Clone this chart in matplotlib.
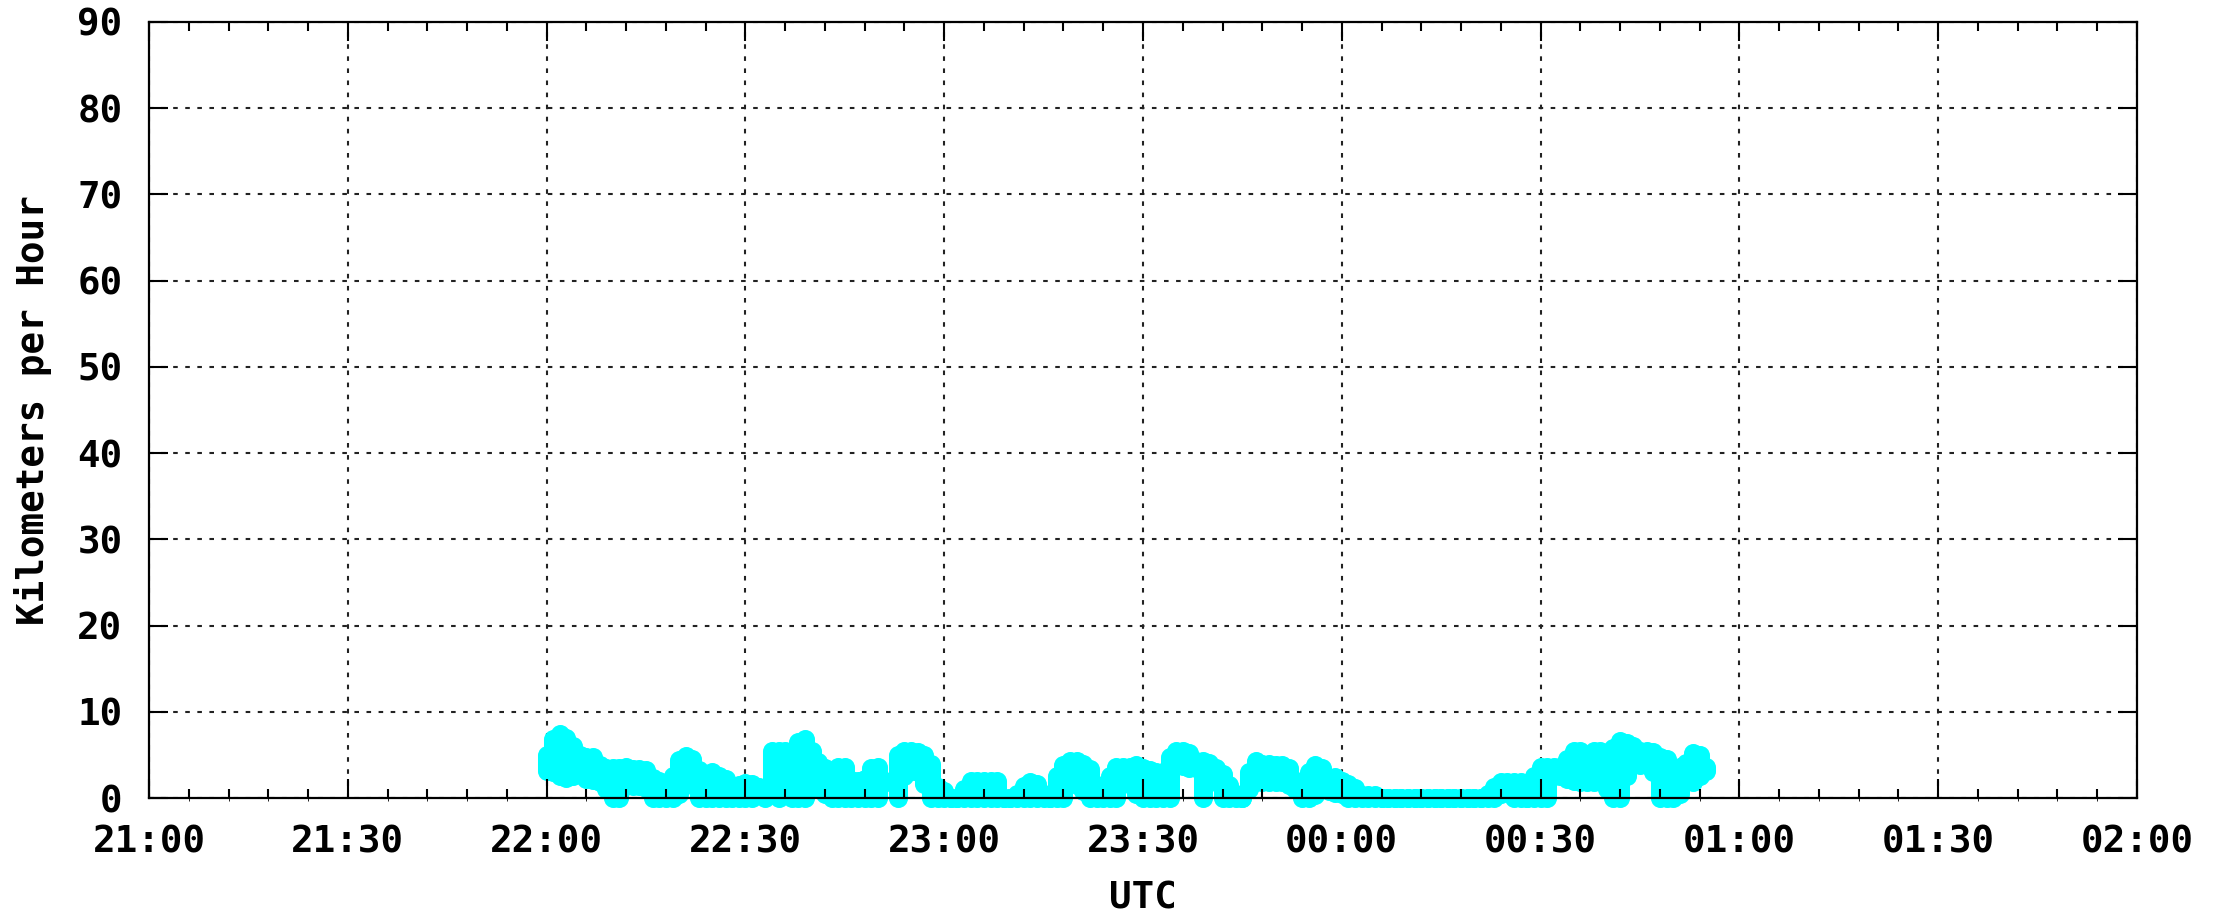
import matplotlib
matplotlib.use("Agg")
import matplotlib.pyplot as plt
from matplotlib.ticker import MultipleLocator

# speed samples, one per minute starting 22:00 UTC (km/h)
# top and bottom of the scatter band
speed_hi = [5.0, 6.8, 7.4, 7.0, 6.0, 5.0, 4.7, 4.7, 3.8, 3.5,
            3.5, 3.5, 3.6, 3.4, 3.4, 3.2, 2.3, 2.0, 1.6, 2.6,
            4.4, 4.9, 4.5, 3.3, 2.8, 3.0, 2.5, 2.2, 1.4, 1.5,
            1.7, 1.6, 1.3, 1.0, 5.5, 5.5, 5.5, 5.4, 6.5, 6.8,
            5.5, 4.2, 3.5, 3.0, 3.6, 3.6, 2.1, 2.0, 2.2, 3.5,
            3.6, 2.0, 1.8, 5.0, 5.5, 5.5, 5.3, 5.0, 4.0, 1.3,
            0.8, 0.0, 0.0, 1.0, 2.0, 2.0, 2.0, 2.0, 2.0, 0.0,
            0.0, 0.5, 1.4, 1.8, 1.6, 0.5, 0.0, 2.5, 3.8, 4.3,
            4.3, 4.0, 3.4, 1.5, 0.7, 2.5, 3.6, 3.6, 3.6, 3.8,
            3.5, 3.2, 3.0, 3.0, 4.8, 5.5, 5.5, 5.2, 4.3, 4.3,
            4.1, 3.5, 2.8, 1.5, 0.5, 0.0, 3.0, 4.3, 4.0, 4.0,
            3.8, 3.8, 3.5, 2.0, 2.0, 3.0, 3.8, 3.5, 2.2, 2.4,
            2.0, 1.6, 1.2, 0.3, 0.4, 0.3, 0.0, 0.0, 0.0, 0.0,
            0.0, 0.0, 0.0, 0.0, 0.0, 0.0, 0.0, 0.0, 0.0, 0.0,
            0.0, 0.0, 0.5, 1.3, 1.8, 1.8, 1.8, 1.8, 0.0, 2.5,
            3.6, 3.6, 3.6, 3.6, 4.5, 5.4, 5.4, 3.8, 5.5, 5.5,
            5.0, 5.8, 6.6, 6.4, 6.0, 5.5, 5.5, 5.3, 4.8, 4.5,
            3.4, 3.6, 4.1, 5.2, 5.0, 3.6]
speed_lo = [3.1, 3.0, 2.6, 2.3, 2.5, 2.8, 2.2, 2.1, 1.9, 1.0,
            0.0, 0.0, 1.4, 1.4, 1.4, 1.2, 0.0, 0.0, 0.0, 0.0,
            0.5, 2.0, 1.5, 0.0, 0.0, 0.0, 0.0, 0.0, 0.0, 0.0,
            0.0, 0.0, 0.3, 0.0, 0.8, 0.0, 1.0, 0.0, 0.0, 0.0,
            1.0, 1.0, 0.5, 0.0, 0.0, 0.0, 0.0, 0.0, 0.0, 0.0,
            0.0, 1.8, 1.8, 0.0, 2.6, 3.1, 3.0, 1.6, 0.0, 0.0,
            0.0, 0.0, 0.0, 0.0, 0.0, 0.0, 0.0, 0.0, 0.0, 0.0,
            0.0, 0.0, 0.0, 0.0, 0.0, 0.0, 0.0, 0.0, 0.0, 1.8,
            1.5, 0.8, 0.0, 0.0, 0.0, 0.0, 0.0, 1.6, 1.6, 0.5,
            0.0, 0.0, 0.0, 0.0, 0.0, 3.7, 3.7, 3.5, 3.5, 0.0,
            1.8, 1.8, 0.0, 0.0, 0.0, 0.0, 1.0, 1.8, 1.8, 1.8,
            1.8, 1.8, 1.5, 1.0, 0.0, 0.0, 0.3, 1.0, 0.8, 0.6,
            0.5, 0.0, 0.0, 0.0, 0.0, 0.0, 0.0, 0.0, 0.0, 0.0,
            0.0, 0.0, 0.0, 0.0, 0.0, 0.0, 0.0, 0.0, 0.0, 0.0,
            0.0, 0.0, 0.0, 0.0, 0.5, 0.7, 0.0, 0.0, 0.0, 0.0,
            0.0, 0.0, 2.6, 2.6, 2.2, 2.0, 1.8, 1.8, 1.8, 2.4,
            1.0, 0.0, 0.0, 2.5, 3.8, 3.8, 3.8, 3.0, 0.0, 0.0,
            0.0, 0.5, 1.8, 1.8, 2.5, 3.1]
start_min = 60  # 22:00, in minutes after 21:00
t = [start_min + i for i in range(len(speed_hi))]

x_labels = ['21:00', '21:30', '22:00', '22:30', '23:00', '23:30',
            '00:00', '00:30', '01:00', '01:30', '02:00']
y_labels = ['0', '10', '20', '30', '40', '50', '60', '70', '80', '90']

W, H, DPI = 2213, 921, 100
fig = plt.figure(figsize=(W / DPI, H / DPI), dpi=DPI)
pos = [149 / W, 1 - 798 / H, (2137 - 149) / W, (798 - 22) / H]

font = {'family': 'DejaVu Sans Mono', 'size': 27, 'weight': 'bold'}
cyan = '#00ffff'

# %% grid + data
ax = fig.add_axes(pos)
ax.set_xlim(0, 300)
ax.set_ylim(0, 90)
ax.set_xticks(range(0, 301, 30))
ax.set_yticks(range(0, 91, 10))
ax.grid(True, color='#222222', lw=1.5, linestyle=(0, (2.2, 3.6)))
ax.tick_params(length=0, labelbottom=False, labelleft=False)
for s in ax.spines.values():
    s.set_visible(False)

msz = 13.7
ax.vlines(t, speed_lo, speed_hi, colors=cyan, lw=msz, clip_on=False, zorder=3)
ax.plot(t, speed_hi, 'o', color=cyan, ms=msz, mec='none', clip_on=False, zorder=3)
ax.plot(t, speed_lo, 'o', color=cyan, ms=msz, mec='none', clip_on=False, zorder=3)

# %% frame, ticks and labels on top of the data
axo = fig.add_axes(pos, sharex=ax, sharey=ax)
axo.patch.set_visible(False)
axo.set_xticks(range(0, 301, 30))
axo.set_xticklabels(x_labels, fontdict=font)
axo.set_yticks(range(0, 91, 10))
axo.set_yticklabels(y_labels, fontdict=font)
axo.xaxis.set_minor_locator(MultipleLocator(6))
axo.tick_params(which='major', direction='in', length=14, width=1.5,
                top=True, right=True, pad=19, color='black')
axo.tick_params(which='minor', direction='in', length=6.5, width=1.5,
                top=True, color='black')
for s in axo.spines.values():
    s.set_linewidth(1.6)
    s.set_color('black')

fig.text(33 / W, 1 - 410 / H, 'Kilometers per Hour', rotation=90,
         ha='center', va='center', fontdict=font)
fig.text((149 + 2137) / 2 / W, 1 - 898 / H, 'UTC', ha='center', va='center',
         fontdict=font)

fig.savefig('out.png', dpi=DPI)
